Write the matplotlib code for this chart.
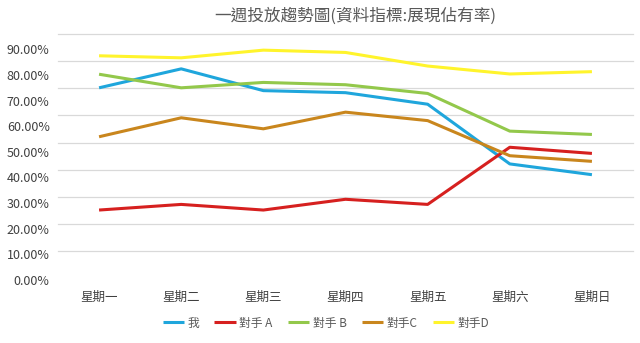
import numpy as np
import matplotlib
matplotlib.use('Agg')
import matplotlib.pyplot as plt
from matplotlib.ticker import PercentFormatter

plt.rcParams['font.family'] = ['Noto Sans CJK TC', 'DejaVu Sans']

# data
days = ['星期一', '星期二', '星期三', '星期四', '星期五', '星期六', '星期日']
me = [0.750, 0.824, 0.739, 0.731, 0.686, 0.453, 0.411]
rival_a = [0.273, 0.295, 0.273, 0.315, 0.295, 0.518, 0.494]
rival_b = [0.803, 0.750, 0.771, 0.762, 0.728, 0.581, 0.568]
rival_c = [0.559, 0.633, 0.590, 0.655, 0.622, 0.485, 0.463]
rival_d = [0.875, 0.867, 0.897, 0.888, 0.835, 0.804, 0.813]
y_ticks = [0.0, 0.1, 0.2, 0.3, 0.4, 0.5, 0.6, 0.7, 0.8, 0.9]

series = [
  ('我', me, '#1FA6DC'),
  ('對手 A', rival_a, '#D6201F'),
  ('對手 B', rival_b, '#93C84B'),
  ('對手C', rival_c, '#C9861D'),
  ('對手D', rival_d, '#FFF42C'),
]

fig = plt.figure(figsize=(6.4, 3.43), dpi=100)
ax = fig.add_axes([58 / 640, 63 / 343, 575 / 640, 246 / 343])

x = np.arange(len(days))
for name, vals, color in series:
  ax.plot(x, vals, color=color, linewidth=2.2, label=name, solid_capstyle='butt')

ax.set_xlim(-0.5, len(days) - 0.5)
ax.set_ylim(0, 0.96)

# the gridlines in the picture do not sit on the tick labels
for g in np.linspace(0.113, 0.96, 9):
  ax.axhline(g, color='#D9D9D9', linewidth=0.9, zorder=0, clip_on=False)

ax.set_xticks(x)
ax.set_xticklabels(days)
ax.set_yticks(y_ticks)
ax.yaxis.set_major_formatter(PercentFormatter(1.0, decimals=2))
ax.tick_params(axis='both', length=0, labelsize=9, colors='#404040')
ax.tick_params(axis='x', pad=8)
ax.tick_params(axis='y', pad=6)
for s in ax.spines.values():
  s.set_visible(False)

fig.text(355 / 640, 1 - 16 / 343, '一週投放趨勢圖(資料指標:展現佔有率)',
         ha='center', va='center', fontsize=12, color='#595959')

fig.legend(loc='center', bbox_to_anchor=(326 / 640, 1 - 323 / 343), ncol=5,
           frameon=False, fontsize=8.5, handlelength=1.8, handletextpad=0.3,
           columnspacing=1.3, labelcolor='#595959')

fig.savefig('out.png', dpi=100)
